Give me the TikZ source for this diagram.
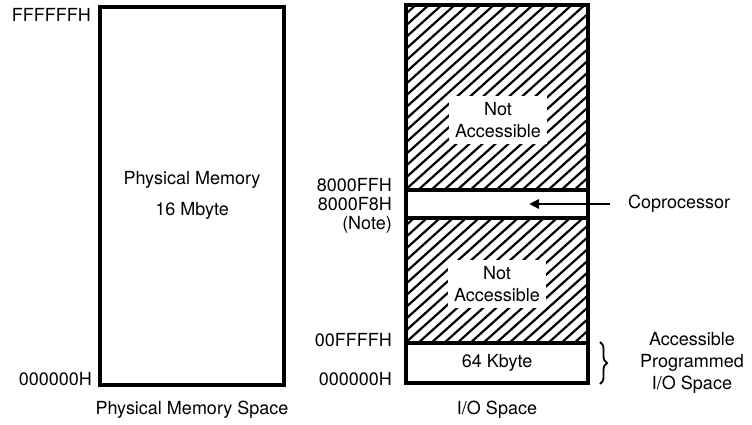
\documentclass[tikz,border=0pt]{standalone}
\usepackage{fontspec}
\setmainfont{TeX Gyre Heros}
\usepackage{tikz}
\usetikzlibrary{arrows.meta,positioning,backgrounds,decorations.pathreplacing}

\begin{document}
\begin{tikzpicture}[
  x=1pt, y=-1pt,
  membox/.style={draw,line width=3.1pt,minimum width=182pt,inner sep=0pt},
  hatch/.style={line width=2.2pt},
  arr/.style={-{Triangle[length=10pt,width=9pt]},line width=2.6pt},
  brc/.style={decorate,decoration={brace,amplitude=7pt},line width=1.8pt},
  every node/.style={font=\fontsize{18}{22}\selectfont},
  addr/.style={anchor=east,inner sep=0pt},
  lbl/.style={align=center,inner sep=0pt}]
  \useasboundingbox (0,0) rectangle (752,425);
  % physical memory space
  \node[membox,minimum width=184pt,minimum height=378pt] (phys) at (192,196) {};
  \node[lbl] (physname) at (192,180) {Physical Memory};
  \node[lbl,below=13pt of physname] (physsize) {16 Mbyte};
  \node[lbl] (physcap) at (192,410) {Physical Memory Space};
  \node[addr] (ptop) at (91,15) {FFFFFFH};
  \node[addr] (pbot) at (92,379) {000000H};
  % I/O space
  \node[membox,minimum height=185pt] (upper) at (497,97.5) {};
  \node[membox,minimum height=28pt] (cop) at (497,204) {};
  \node[membox,minimum height=125pt] (lower) at (497,280.5) {};
  \node[membox,minimum height=40pt] (kb) at (497,363) {64 Kbyte};
  \begin{scope}[on background layer]
    \foreach \r in {upper,lower} {
      \begin{scope}
        \clip (\r.south west) rectangle (\r.north east);
        \foreach \i in {-300,-287,...,200}
          \draw[hatch] ([xshift=\i pt]\r.south west) -- ++(250,-225);
      \end{scope}
    }
  \end{scope}
  \node[lbl,fill=white,inner sep=6pt] (na1) at (498,120) {Not\\Accessible};
  \node[lbl,fill=white,inner sep=6pt] (na2) at (497,284) {Not\\Accessible};
  \node[lbl] (iocap) at (497,410) {I/O Space};
  \node[addr] (a8ff) at (392,185) {8000FFH};
  \node[addr] (a8f8) at (392,204) {8000F8H};
  \node[addr] (anote) at (392,225) {(Note)};
  \node[addr] (a0ff) at (392,340) {00FFFFH};
  \node[addr] (a000) at (392,379) {000000H};
  % coprocessor arrow
  \node[lbl,anchor=west] (coptxt) at (628,204) {Coprocessor};
  \coordinate (arrtip) at (529,204);
  \draw[arr] ([xshift=-18pt]coptxt.west) -- (arrtip);
  % accessible I/O brace
  \coordinate (brtop) at (600,342);
  \coordinate (brbot) at (600,384);
  \draw[brc] (brtop) -- (brbot);
  \node[lbl] (acc) at (692,363) {Accessible\\Programmed\\I/O Space};
\end{tikzpicture}
\end{document}
